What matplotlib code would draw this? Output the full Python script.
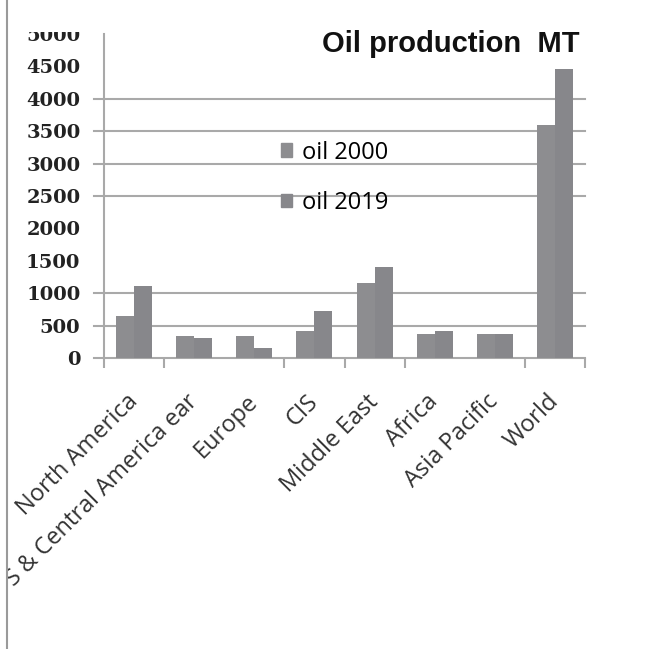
import numpy as np
import matplotlib.pyplot as plt
from matplotlib.lines import Line2D
from matplotlib.patches import Rectangle
from matplotlib.transforms import Bbox, TransformedBbox

regions = ["North America", "S & Central America ear", "Europe", "CIS",
           "Middle East", "Africa", "Asia Pacific", "World"]
oil_2000 = [650, 345, 345, 410, 1150, 375, 375, 3600]
oil_2019 = [1110, 315, 160, 720, 1400, 410, 375, 4460]
series_labels = ["oil 2000", "oil 2019"]
y_ticks = [0, 500, 1000, 1500, 2000, 2500, 3000, 3500, 4000, 4500, 5000]
grid_levels = [0, 500, 1000, 2500, 3000, 3500, 4000]
# boundary ticks that are drawn along the category axis
boundary_idx = [0, 1, 3, 4, 5, 7, 8]

c2000 = "#8d8d90"
c2019 = "#87878b"
grid_c = "#a9a9a9"

fig = plt.figure(figsize=(6.46, 6.49), dpi=100)
ax = fig.add_axes([0.161, 0.4484, 0.7446, 0.4992])

x = np.arange(len(regions))
w = 0.3
ax.bar(x - w / 2, oil_2000, width=w, color=c2000, zorder=3)
ax.bar(x + w / 2, oil_2019, width=w, color=c2019, zorder=3)

ax.set_xlim(-0.5, len(regions) - 0.5)
ax.set_ylim(0, 5000)

# gridlines double as the outward y ticks
for lvl in grid_levels:
    ax.axhline(lvl, xmin=-0.021, xmax=1, color=grid_c, lw=1.5, clip_on=False, zorder=1)

for s in ["top", "right", "bottom"]:
    ax.spines[s].set_visible(False)
ax.spines["left"].set_color(grid_c)
ax.spines["left"].set_linewidth(1.5)

ax.set_yticks(y_ticks)
ax.set_yticklabels([str(v) for v in y_ticks], fontfamily="DejaVu Serif",
                   fontweight="bold", fontsize=14, color="#222222")
ax.tick_params(axis="y", length=0, pad=17)

bounds = np.arange(len(regions) + 1) - 0.5
ax.set_xticks(x)
ax.set_xticks(bounds[boundary_idx], minor=True)
ax.tick_params(axis="x", which="minor", length=7, width=1.5, color=grid_c, direction="out")
ax.tick_params(axis="x", which="major", length=0, pad=29)
ax.set_xticklabels(regions, rotation=45, ha="right", va="center", rotation_mode="anchor",
                   fontfamily="Open Sans", fontsize=17, color="#333333")

# the image frame cuts off anything left of it and above the top
clip = TransformedBbox(Bbox([[0.0125, 0], [1, 0.951]]), fig.transFigure)
for lab in ax.get_xticklabels() + ax.get_yticklabels():
    lab.set_clip_on(True)
    lab.set_clip_box(clip)

handles = [Rectangle((0, 0), 1, 1, color=c2000), Rectangle((0, 0), 1, 1, color=c2019)]
ax.legend(handles, series_labels, loc="upper left", bbox_to_anchor=(0.367, 0.671),
          frameon=False, borderpad=0, borderaxespad=0, handlelength=0.5, handleheight=0.5,
          handletextpad=0.4, labelspacing=1.12,
          prop={"family": "Open Sans", "size": 17})

fig.text(580 / 646, 1 - 52 / 649, "Oil production  MT", ha="right", va="baseline",
         fontfamily="Liberation Sans", fontweight="bold", fontsize=21, color="#111111")

fig.add_artist(Line2D([0.011, 0.011], [0, 1], transform=fig.transFigure,
                      color="#9a9a9a", lw=1.5))

fig.savefig("out.png", dpi=100)
